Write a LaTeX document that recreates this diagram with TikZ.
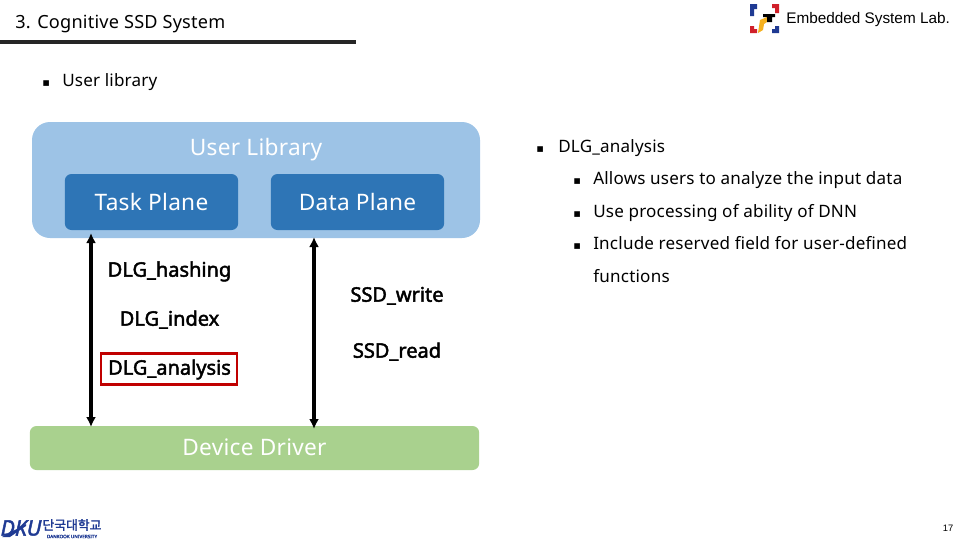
\documentclass[tikz,border=0pt]{standalone}
\usepackage{fontspec}
\setmainfont{Noto Sans}[LetterSpace=1.2]
\newfontfamily\apifont{Noto Sans}[FakeBold=2.2]
\newfontfamily\labfont{Liberation Sans}
\newfontfamily\symfont{DejaVu Sans}
\newfontfamily\krfont{Noto Sans CJK KR}[FakeBold=1.5]
\usetikzlibrary{arrows.meta,positioning,calc}
\definecolor{libblue}{HTML}{9DC3E6}
\definecolor{planeblue}{HTML}{2E75B6}
\definecolor{drvgreen}{HTML}{A9D18E}
\definecolor{hiliteRed}{HTML}{C00000}
\definecolor{logoblue}{HTML}{1F3A93}
\definecolor{logored}{HTML}{D0202A}
\definecolor{logoyellow}{HTML}{F5B120}
\newcommand{\bul}[1]{\makebox[#1][l]{\symfont\fontsize{8.5}{8.5}\selectfont\symbol{"25AA}}}
\begin{document}
\begin{tikzpicture}[
    x=0.75pt,y=-0.75pt,
    >={Latex[length=7.5pt,width=7.5pt]},
    flow/.style={<->,line width=3pt,draw=black},
    library/.style={fill=libblue,rounded corners=13.5pt,minimum width=336pt,minimum height=87pt,inner sep=0pt},
    plane/.style={fill=planeblue,rounded corners=5pt,minimum width=130pt,minimum height=42pt,
      text=white,font=\fontsize{17}{20}\selectfont,inner sep=0pt},
    driver/.style={fill=drvgreen,rounded corners=5pt,minimum width=337pt,minimum height=33pt,inner sep=0pt},
    boxtitle/.style={text=white,font=\fontsize{17}{20}\selectfont,inner sep=0pt},
    api/.style={font=\apifont\fontsize{15}{17}\selectfont,inner sep=0pt,text height=10.5pt,text depth=3.5pt},
    body/.style={anchor=west,inner sep=0pt,font=\fontsize{12.8}{16}\selectfont,text height=9.5pt,text depth=3pt},
    hilite/.style={draw=hiliteRed,line width=2.2pt,minimum width=102pt,minimum height=23pt,inner sep=0pt}
  ]
    \useasboundingbox (0,0) rectangle (960,540);

    % header
    \node[body,font=\fontsize{13.6}{16}\selectfont] (title) at (15,24) {3. Cognitive SSD System};
    \node[anchor=west,inner sep=0pt,font=\labfont\fontsize{11.5}{13}\selectfont] (lab) at (786,20) {Embedded System Lab.};
    \fill[black!85] (0,40) rectangle (356,44);
    \fill[logoblue] (750,4) rectangle (757,9) (750,4) rectangle (754,16);
    \fill[logored] (772,4) rectangle (779,8) (775,4) rectangle (779,13);
    \fill[logored] (750,26) rectangle (754,33) (750,29) rectangle (757,33);
    \fill[logoblue] (775,26) rectangle (779,33) (772,29) rectangle (779,33);
    \fill[logoyellow] (758,33) -- (760,20) -- (767,17) -- (767,22) -- (764,24) -- (763,30) -- cycle;
    \fill[black] (763,14) rectangle (775,17) (767,17) rectangle (772,22);

    \node[body] (sec) at (42,82) {\bul{15pt}User library};

    % library and driver
    \node[library] (userlib) at (256,180) {};
    \node[boxtitle] (libname) at (256,150) {User Library};
    \node[plane] (task) at (151.5,202) {Task Plane};
    \node[plane] (data) at (357.5,202) {Data Plane};
    \node[driver] (drv) at (254.5,448) {};
    \node[boxtitle] (drvname) at (254.5,447) {Device Driver};

    % calls
    \coordinate (tasktop) at (91,233);
    \coordinate (taskbot) at (91,427);
    \coordinate (datatop) at (314,237);
    \coordinate (databot) at (314,429);
    \draw[flow] (tasktop) -- (taskbot);
    \draw[flow] (datatop) -- (databot);

    \node[api] (hash) at (169.5,272) {DLG\_hashing};
    \node[api] (index) at (169.5,321) {DLG\_index};
    \node[api] (analysis) at (169.5,370) {DLG\_analysis};
    \node[hilite] (mark) at (169,369) {};
    \node[api] (write) at (397,297) {SSD\_write};
    \node[api] (read) at (397,353) {SSD\_read};

    % notes
    \node[body] (n0) at (536,148) {\bul{16.5pt}DLG\_analysis};
    \node[body] (n1) at (573,180) {\bul{15pt}Allows users to analyze the input data};
    \node[body] (n2) at (573,213) {\bul{15pt}Use processing of ability of DNN};
    \node[body] (n3) at (573,245) {\bul{15pt}Include reserved field for user-defined};
    \node[body] (n4) at (593,278) {functions};

    % footer
    \fill[logoblue] (2,537) -- (26,524) -- (26,526) -- (10,537) -- cycle;
    \node[inner sep=0pt,font=\apifont\itshape\fontsize{16}{16}\selectfont,text=logoblue] (dku) at (21,528) {DKU};
    \node[inner sep=0pt,text=logoblue,font=\krfont\fontsize{9.6}{10}\selectfont] (uni) at (72,525) {단국대학교};
    \node[inner sep=0pt,text=logoblue,font=\apifont\fontsize{3.5}{3.5}\selectfont] (uni2) at (72,536.5) {DANKOOK UNIVERSITY};
    \node[inner sep=0pt,font=\labfont\fontsize{7}{9}\selectfont] (page) at (948,528) {17};
  \end{tikzpicture}
\end{document}
